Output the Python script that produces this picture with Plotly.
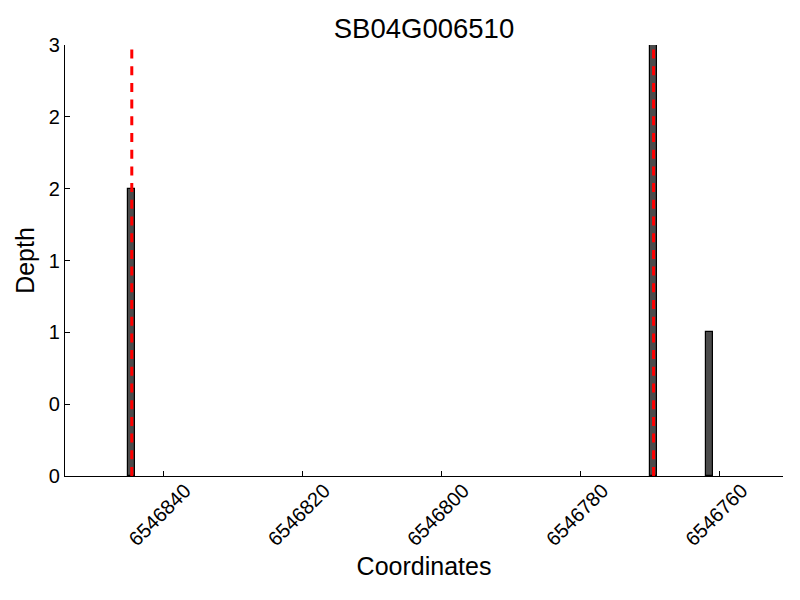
import plotly.graph_objects as go

title = "SB04G006510"
bar_starts = [6546844, 6546769, 6546761]
depths = [2, 3, 1]
exon_bounds = [6546844.5, 6546769.5]
line_top = 3
x_ticks = [6546840, 6546820, 6546800, 6546780, 6546760]
y_ticks = [0, 0.5, 1, 1.5, 2, 2.5, 3]
y_tick_text = [str(int(v)) for v in y_ticks]
x_range = [6546854.1, 6546750.9]

fig = go.Figure()
fig.add_trace(go.Bar(
    x=bar_starts, y=depths, width=[1] * len(bar_starts), offset=0,
    marker=dict(color="#4b4b4b", line=dict(color="black", width=1.2)),
    showlegend=False, hoverinfo="x+y"))
for xb in exon_bounds:
    fig.add_trace(go.Scatter(
        x=[xb, xb], y=[0, line_top], mode="lines",
        line=dict(color="red", width=3, dash="9px,7.7px"),
        showlegend=False, hoverinfo="skip"))

font_family = "Liberation Sans, Arial, sans-serif"
fig.update_layout(
    width=800, height=600,
    margin=dict(l=65, r=17, t=45, b=124, autoexpand=False),
    plot_bgcolor="white", paper_bgcolor="white",
    font=dict(family=font_family, color="black", size=20),
    title=dict(text=title, x=0.53, xanchor="center", y=0.952, yanchor="middle",
               font=dict(size=27.5, family=font_family, color="black")),
    xaxis=dict(range=x_range, tickvals=x_ticks, ticktext=[str(v) for v in x_ticks],
               tickangle=-45, ticks="inside", ticklen=5, tickcolor="black",
               showline=True, linecolor="black", linewidth=1.3,
               showgrid=False, zeroline=False, automargin=False,
               tickfont=dict(size=20), ticklabelshift=-22, ticklabelstandoff=-6,
               title=dict(text="Coordinates", font=dict(size=25), standoff=8)),
    yaxis=dict(range=[0, 3], tickvals=y_ticks, ticktext=y_tick_text,
               ticks="inside", ticklen=5, tickcolor="black",
               showline=True, linecolor="black", linewidth=1.3,
               showgrid=False, zeroline=False, automargin=False,
               tickfont=dict(size=20),
               title=dict(text="Depth", font=dict(size=25), standoff=6)),
    bargap=0,
)
fig.write_html("out.html", config={"displayModeBar": False},
               post_script="document.body.style.margin='0';document.body.style.overflow='hidden';")
